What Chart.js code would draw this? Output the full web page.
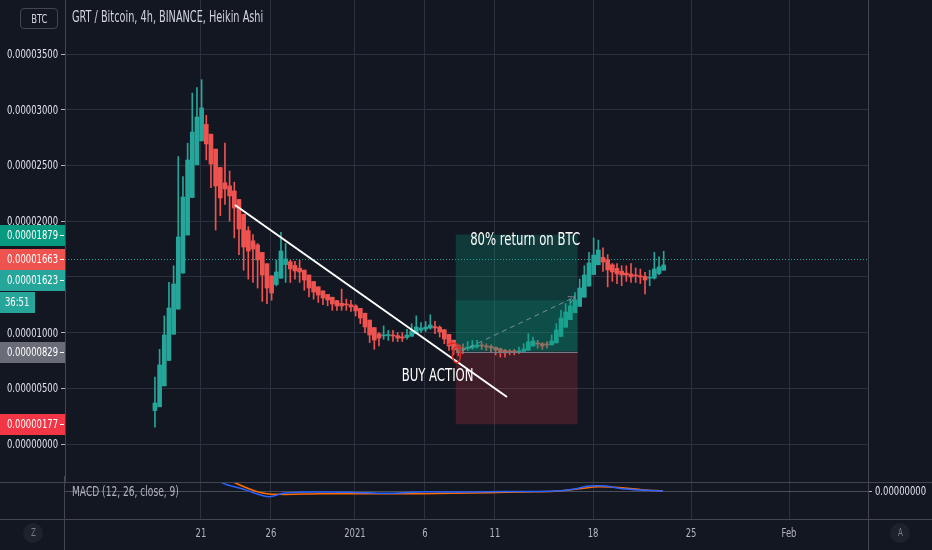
<!DOCTYPE html>
<html>
<head>
<meta charset="utf-8">
<script src="https://cdn.jsdelivr.net/npm/chart.js@4.4.1/dist/chart.umd.min.js"></script>
<style>
  html, body { margin: 0; padding: 0; background: #131722; }
  body { width: 932px; height: 550px; position: relative; overflow: hidden;
         font-family: "DejaVu Sans Condensed", "DejaVu Sans", sans-serif; }
  #main { position: absolute; left: 0; top: 0; }
  #macd { position: absolute; left: 0; top: 476px; }
  .sym { position: absolute; left: 20px; top: 8px; width: 36px; height: 19px; border: 1px solid #434651;
         border-radius: 4px; color: #d1d4dc; font-size: 13px; line-height: 19px; text-align: center; }
  .sym span, .btn span { display: inline-block; }
  .sq { position: absolute; white-space: nowrap; transform-origin: 0 50%; }
  .title { left: 72px; top: 8px; color: #d1d4dc; font-size: 15px; }
  .legend { left: 72px; top: 483px; color: #b2b5be; font-size: 14px; }
  .btn { position: absolute; top: 523px; width: 20px; height: 20px; border-radius: 50%; background: #1e222d;
         color: #787b86; font-size: 11px; line-height: 20px; text-align: center; }
</style>
</head>
<body>
<canvas id="main" width="932" height="482"></canvas>
<canvas id="macd" width="932" height="74"></canvas>
<div class="sym"><span class="sqi">BTC</span></div>
<div class="sq title">GRT / Bitcoin, 4h, BINANCE, Heikin Ashi</div>
<div class="sq legend">MACD (12, 26, close, 9)</div>
<div class="btn" style="left:23px"><span class="sqi">Z</span></div>
<div class="btn" style="left:890px"><span class="sqi">A</span></div>
<script>
const FONT = '"DejaVu Sans Condensed", "DejaVu Sans", sans-serif';
Chart.defaults.font.family = FONT;

// prices in satoshi (1e-8 BTC), x in days from Dec 1 2020
const firstDay = 16.714;
const barStep = 1 / 3;
const firstOpen = 300;
const closes = [
  368, 709, 978, 1221, 1436, 1858, 2217, 2549, 2800, 2935,
  3016, 2693, 2513, 2316, 2208, 2289, 2226, 2118, 1930, 1768,
  1732, 1750, 1652, 1517, 1400, 1355, 1544, 1732, 1661, 1571,
  1553, 1544, 1472, 1400, 1364, 1337, 1310, 1293, 1257, 1239,
  1239, 1248, 1230, 1194, 1131, 1050, 978, 933, 951, 978,
  978, 969, 951, 951, 978, 1014, 1050, 1041, 1050, 1068,
  1041, 1005, 942, 880, 844, 826, 853, 871, 880, 889,
  880, 871, 862, 844, 826, 817, 826, 826, 835, 853,
  916, 925, 898, 880, 889, 925, 1023, 1131, 1185, 1239,
  1293, 1400, 1517, 1625, 1696, 1741, 1634, 1562, 1544, 1526,
  1517, 1517, 1499, 1508, 1499, 1472, 1490, 1571, 1589, 1607
];
const highs = [
  600, 850, 1150, 1450, 1600, 2580, 2400, 2700, 3150, 3200,
  3270, 2950, 2700, 2550, 2450, 2700, 2450, 2350, 2150, 1900,
  1950, 1880, 1800, 1650, 1500, 1450, 1650, 1900, 1800, 1650,
  1640, 1650, 1560, 1460, 1420, 1380, 1360, 1340, 1300, 1290,
  1390, 1300, 1290, 1250, 1200, 1110, 1030, 980, 1000, 1060,
  1020, 1020, 1000, 1000, 1030, 1080, 1150, 1090, 1100, 1160,
  1100, 1060, 1000, 930, 880, 860, 900, 920, 930, 930,
  910, 900, 890, 870, 860, 850, 850, 850, 870, 900,
  990, 960, 930, 910, 920, 980, 1080, 1200, 1260, 1300,
  1360, 1480, 1600, 1720, 1850, 1830, 1760, 1700, 1620, 1620,
  1600, 1600, 1620, 1580, 1570, 1540, 1560, 1720, 1680, 1730
];
const lows = [
  150, 560, 850, 1100, 1300, 1450, 1900, 2300, 2600, 2800,
  2900, 2550, 2300, 1920, 2050, 2150, 2000, 1850, 1700, 1560,
  1480, 1450, 1400, 1280, 1260, 1290, 1420, 1550, 1450, 1450,
  1480, 1450, 1380, 1320, 1300, 1270, 1250, 1240, 1200, 1200,
  1200, 1200, 1190, 1150, 1080, 1000, 910, 850, 880, 940,
  930, 920, 920, 920, 940, 980, 1010, 1000, 1010, 1030,
  990, 960, 900, 840, 800, 790, 810, 840, 850, 860,
  850, 840, 820, 800, 780, 780, 800, 800, 810, 830,
  880, 880, 860, 850, 860, 890, 960, 1050, 1130, 1180,
  1240, 1320, 1420, 1530, 1620, 1650, 1550, 1410, 1460, 1440,
  1420, 1460, 1450, 1450, 1440, 1346, 1420, 1480, 1520, 1560
];

const priceTicks = [0, 500, 1000, 1500, 2000, 2500, 3000, 3500];
const timeTickDays = [20, 25, 31, 36, 41, 48, 55, 62];
const timeTickLabels = ["21", "26", "2021", "6", "11", "18", "25", "Feb"];

// price scale marks on the left axis
const markValues = [1879, 1663, 1623, 829, 177];
const markColors = ["#089981", "#ef5350", "#26a69a", "#6a6d78", "#f23645"];
const lastPrice = 1663;
const countdown = "36:51";

// long position tool + drawings
const posStart = 38.2, posEnd = 46.9;
const posEntry = 829, posTarget = 1879, posStop = 177, posNow = 1290;
const arrowFrom = [38.6, 835], arrowTo = [46.7, 1319];
const trendFrom = [22.43, 2145], trendTo = [41.86, 422];
const returnText = "80% return on BTC", returnAt = [43.15, 1831];
const buyText = "BUY ACTION", buyAt = [36.9, 610];
const markerAt = [38.25, 800];

// MACD (12, 26, close, 9)
const macdDays = [20.3, 21.4, 23.1, 24.8, 26.0, 28.5, 31.0, 33.2, 35.6, 38.0, 40.5, 43.0, 45.3, 46.6, 47.7, 48.9, 50.1, 51.5, 53.0];
const macdValues = [2.5, 1.0, 0.17, -0.63, -0.22, -0.1, -0.15, -0.26, -0.1, -0.12, -0.08, -0.05, 0.0, 0.2, 0.55, 0.55, 0.25, 0.1, 0.0];
const signalDays = [21.0, 22.3, 24.1, 25.5, 28.5, 31.0, 33.2, 35.6, 38.0, 40.5, 43.0, 45.3, 47.0, 48.4, 50.1, 51.5, 53.0];
const signalValues = [2.0, 1.0, -0.1, -0.37, -0.3, -0.3, -0.31, -0.3, -0.25, -0.19, -0.1, -0.03, 0.25, 0.48, 0.37, 0.15, 0.0];

const UP = "#26a69a", DOWN = "#ef5350";
const GRID = "#2d313d";
const LINE = "#434651";
const xMin = 10.29, xMax = 67.64;

// the screenshot text is horizontally squeezed; measure the font once
const meas = document.createElement("canvas").getContext("2d");
meas.font = "13px " + FONT;
const SQ = 51 / meas.measureText("0.00003500").width;
document.querySelectorAll(".sq, .sqi").forEach((el) => { el.style.transform = "scaleX(" + SQ + ")"; });

function sqText(ctx, text, x, y, align, size, color) {
  ctx.save();
  ctx.font = size + "px " + FONT;
  ctx.fillStyle = color;
  ctx.textAlign = align;
  ctx.textBaseline = "middle";
  ctx.translate(x, y);
  ctx.scale(SQ, 1);
  ctx.fillText(text, 0, 0);
  ctx.restore();
}

// heikin ashi opens
const opens = [];
closes.forEach((c, i) => {
  opens.push(i === 0 ? firstOpen : (opens[i - 1] + closes[i - 1]) / 2);
});
const dayOf = (i) => firstDay + i * barStep;
const bodies = closes.map((c, i) => ({ x: dayOf(i), y: [opens[i], c] }));
const wicks = closes.map((c, i) => ({
  x: dayOf(i),
  y: [Math.min(lows[i], opens[i], c), Math.max(highs[i], opens[i], c)],
}));
const barColors = closes.map((c, i) => (c >= opens[i] ? UP : DOWN));

const fmt = (v) => (v / 1e8).toFixed(8);
const setTimeTicks = (s) => { s.ticks = timeTickDays.map((v) => ({ value: v })); };

const mainOverlay = {
  id: "mainOverlay",
  beforeDatasetsDraw(chart) {
    const { ctx, chartArea: a, scales: { y } } = chart;
    const yl = Math.round(y.getPixelForValue(lastPrice)) + 0.5;
    ctx.save();
    ctx.strokeStyle = UP;
    ctx.lineWidth = 1;
    ctx.setLineDash([1, 2]);
    ctx.beginPath();
    ctx.moveTo(a.left, yl);
    ctx.lineTo(a.right, yl);
    ctx.stroke();
    ctx.restore();
  },
  afterDatasetsDraw(chart) {
    const { ctx, scales: { x, y } } = chart;
    const px = (p) => [x.getPixelForValue(p[0]), y.getPixelForValue(p[1])];
    const x1 = x.getPixelForValue(posStart), x2 = x.getPixelForValue(posEnd);
    const yT = y.getPixelForValue(posTarget), yE = y.getPixelForValue(posEntry);
    const yS = y.getPixelForValue(posStop), yN = y.getPixelForValue(posNow);
    ctx.save();
    ctx.fillStyle = "rgba(8,153,129,0.26)";
    ctx.fillRect(x1, yT, x2 - x1, yE - yT);
    ctx.fillStyle = "rgba(8,153,129,0.22)";
    ctx.fillRect(x1, yN, x2 - x1, yE - yN);
    ctx.fillStyle = "rgba(242,54,69,0.2)";
    ctx.fillRect(x1, yE, x2 - x1, yS - yE);
    ctx.strokeStyle = "#787b86";
    ctx.lineWidth = 1;
    ctx.beginPath();
    ctx.moveTo(x1, Math.round(yE) + 0.5);
    ctx.lineTo(x2, Math.round(yE) + 0.5);
    ctx.stroke();

    // dashed path of the trade
    const [ax, ay] = px(arrowFrom), [bx, by] = px(arrowTo);
    ctx.strokeStyle = "rgba(160,163,172,0.75)";
    ctx.setLineDash([5, 4]);
    ctx.beginPath();
    ctx.moveTo(ax, ay);
    ctx.lineTo(bx, by);
    ctx.stroke();
    ctx.setLineDash([]);
    const ang = Math.atan2(by - ay, bx - ax);
    ctx.beginPath();
    ctx.moveTo(bx - 7 * Math.cos(ang - 0.5), by - 7 * Math.sin(ang - 0.5));
    ctx.lineTo(bx, by);
    ctx.lineTo(bx - 7 * Math.cos(ang + 0.5), by - 7 * Math.sin(ang + 0.5));
    ctx.stroke();

    // trend line
    const [t1x, t1y] = px(trendFrom), [t2x, t2y] = px(trendTo);
    ctx.strokeStyle = "#ffffff";
    ctx.lineWidth = 2;
    ctx.beginPath();
    ctx.moveTo(t1x, t1y);
    ctx.lineTo(t2x, t2y);
    ctx.stroke();

    // red marker
    const [mx, my] = px(markerAt);
    ctx.strokeStyle = "#e8261f";
    ctx.lineWidth = 1.5;
    ctx.beginPath();
    ctx.ellipse(mx, my, 4, 8, 0, 0, Math.PI * 2);
    ctx.stroke();
    ctx.beginPath();
    ctx.moveTo(mx - 9, my - 10);
    ctx.quadraticCurveTo(mx, my - 15, mx + 4, my - 6);
    ctx.stroke();
    ctx.restore();

    let [rx, ry] = px(returnAt);
    sqText(ctx, returnText, rx, ry, "center", 18, "#ffffff");
    [rx, ry] = px(buyAt);
    sqText(ctx, buyText, rx, ry, "center", 18, "#ffffff");
  },
  afterDraw(chart) {
    const { ctx, chartArea: a, scales: { y } } = chart;
    ctx.save();
    ctx.strokeStyle = LINE;
    ctx.beginPath();
    ctx.moveTo(a.right + 0.5, 0);
    ctx.lineTo(a.right + 0.5, chart.height);
    ctx.stroke();
    ctx.restore();

    // axis labels
    y.ticks.forEach((t) => {
      sqText(ctx, fmt(t.value), a.left - 7, Math.round(y.getPixelForValue(t.value)) + 1, "right", 13, "#e0e3eb");
    });

    // price marks, pushed apart so the boxes do not overlap
    let prev = -Infinity;
    markValues.forEach((v, i) => {
      const yy = Math.max(Math.round(y.getPixelForValue(v)), prev + 21);
      prev = yy;
      ctx.fillStyle = markColors[i];
      ctx.fillRect(0, yy - 10, a.left, 21);
      ctx.fillStyle = "#ffffff";
      ctx.fillRect(a.left - 5, yy, 4, 1);
      sqText(ctx, fmt(v), a.left - 7, yy + 1, "right", 13, "#ffffff");
      if (v === lastPrice - 40) {
        prev = yy + 22;
        ctx.fillStyle = UP;
        ctx.fillRect(0, yy + 12, 35, 21);
        sqText(ctx, countdown, 5, yy + 23, "left", 13, "#ffffff");
      }
    });
  },
};

new Chart(document.getElementById("main"), {
  type: "bar",
  data: {
    datasets: [
      { data: bodies, backgroundColor: barColors, barThickness: 4, minBarLength: 1, grouped: false },
      { data: wicks, backgroundColor: barColors, barThickness: 1, grouped: false },
    ],
  },
  options: {
    responsive: false,
    animation: false,
    layout: { padding: { left: 0, right: 64, top: 0, bottom: 0 } },
    plugins: { legend: { display: false }, tooltip: { enabled: false } },
    scales: {
      x: {
        type: "linear",
        offset: false,
        min: xMin,
        max: xMax,
        afterBuildTicks: setTimeTicks,
        afterFit: (s) => { s.height = 0; },
        ticks: { display: false },
        grid: { color: GRID, drawTicks: false, offset: false },
        border: { display: false },
      },
      y: {
        position: "left",
        min: -341,
        max: 3985,
        afterBuildTicks: (s) => { s.ticks = priceTicks.map((v) => ({ value: v })); },
        afterFit: (s) => { s.width = 65; },
        ticks: { display: false },
        grid: { color: GRID, tickColor: "#b2b5be", tickLength: 4 },
        border: { color: LINE },
      },
    },
  },
  plugins: [mainOverlay],
});

const macdOverlay = {
  id: "macdOverlay",
  afterDraw(chart) {
    const { ctx, chartArea: a, scales: { x, y } } = chart;
    ctx.save();
    ctx.strokeStyle = LINE;
    ctx.lineWidth = 1;
    ctx.beginPath();
    ctx.moveTo(0, a.top + 0.5);
    ctx.lineTo(chart.width, a.top + 0.5);
    ctx.moveTo(0, a.bottom + 0.5);
    ctx.lineTo(chart.width, a.bottom + 0.5);
    ctx.moveTo(a.left - 0.5, 0);
    ctx.lineTo(a.left - 0.5, chart.height);
    ctx.moveTo(a.right + 0.5, 0);
    ctx.lineTo(a.right + 0.5, chart.height);
    ctx.stroke();
    ctx.restore();
    x.ticks.forEach((t) => {
      const label = timeTickLabels[timeTickDays.indexOf(t.value)];
      sqText(ctx, label, x.getPixelForValue(t.value), a.bottom + 15, "center", 13, "#b2b5be");
    });
    sqText(ctx, fmt(0), a.right + 7, y.getPixelForValue(0) + 1, "left", 13, "#e0e3eb");
  },
};

new Chart(document.getElementById("macd"), {
  type: "line",
  data: {
    datasets: [
      {
        data: macdDays.map((d, i) => ({ x: d, y: macdValues[i] })),
        borderColor: "#2962ff", borderWidth: 1.5, pointRadius: 0, tension: 0.35,
      },
      {
        data: signalDays.map((d, i) => ({ x: d, y: signalValues[i] })),
        borderColor: "#ff6d00", borderWidth: 1.5, pointRadius: 0, tension: 0.35,
      },
    ],
  },
  options: {
    responsive: false,
    animation: false,
    layout: { padding: { left: 65, right: 0, top: 6, bottom: 0 } },
    plugins: { legend: { display: false }, tooltip: { enabled: false } },
    scales: {
      x: {
        type: "linear",
        min: xMin,
        max: xMax,
        afterBuildTicks: setTimeTicks,
        afterFit: (s) => { s.height = 31; },
        ticks: { display: false },
        grid: { color: GRID, drawTicks: false },
        border: { display: false },
      },
      y: {
        position: "right",
        min: -3.1,
        max: 1,
        afterBuildTicks: (s) => { s.ticks = [{ value: 0 }]; },
        afterFit: (s) => { s.width = 64; },
        ticks: { display: false },
        grid: { color: "#4a4e59", tickColor: "#b2b5be", tickLength: 4 },
        border: { display: false },
      },
    },
  },
  plugins: [macdOverlay],
});
</script>
</body>
</html>
